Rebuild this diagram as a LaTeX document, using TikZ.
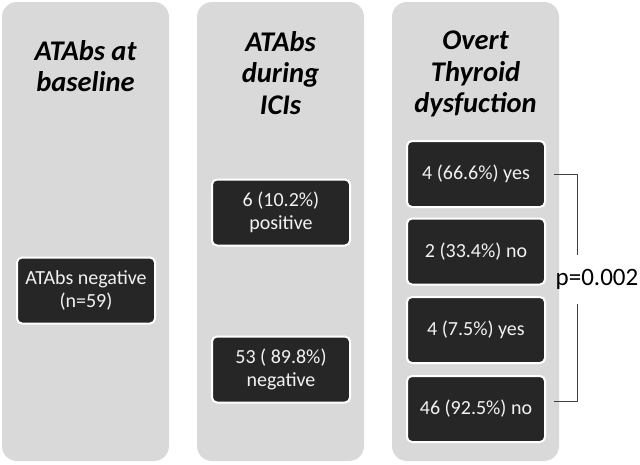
\documentclass[tikz,border=0pt]{standalone}
\usepackage{fontspec}
\setmainfont{Carlito}
\usetikzlibrary{positioning}
\definecolor{panelgray}{HTML}{D9D9D9}
\definecolor{boxdark}{HTML}{262626}
\definecolor{boxtext}{HTML}{F2F2F2}
\definecolor{brackgray}{HTML}{404040}

\begin{document}
\begin{tikzpicture}[x=1pt, y=-1pt,
  panel/.style={fill=panelgray, rounded corners=15pt},
  headtext/.style={font=\fontsize{28.5}{31.5}\selectfont\bfseries\itshape, align=center, anchor=north, inner sep=0pt},
  stagebox/.style={fill=boxdark, draw=white, line width=2pt, rounded corners=5pt, text=boxtext,
    font=\fontsize{20}{23.5}\selectfont, align=center, minimum width=138pt, minimum height=66pt, inner sep=2pt},
  bracket/.style={draw=brackgray, line width=1pt}]
  \useasboundingbox (0,0) rectangle (640,464);

  % --- Panels ---
  \fill[panel] (2,2) rectangle (169,461);
  \fill[panel] (197,2) rectangle (364,461);
  \fill[panel] (392,2) rectangle (559,461);

  % --- Headers ---
  \node[headtext] (head1) at (85.5,40) {ATAbs at\\baseline};
  \node[headtext] (head2) at (280.5,31) {ATAbs\\during\\ICIs};
  \node[headtext] (head3) at (475.5,31) {Overt\\Thyroid\\dysfuction};

  % --- Baseline ---
  \node[stagebox] (base) at (86,290.5) {ATAbs negative\\(n=59)};

  % --- During ICIs ---
  \node[stagebox] (pos) at (281,212.5) {6 (10.2\%)\\positive};
  \node[stagebox] (neg) at (281,369.5) {53 ( 89.8\%)\\negative};

  % --- Overt dysfunction ---
  \node[stagebox] (posyes) at (476,174) {4 (66.6\%) yes};
  \node[stagebox] (posno) at (476,251.5) {2 (33.4\%) no};
  \node[stagebox] (negyes) at (476,330) {4 (7.5\%) yes};
  \node[stagebox] (negno) at (476,409) {46 (92.5\%) no};

  % --- p value bracket ---
  \node[font=\fontsize{25}{30}\selectfont, inner sep=0pt] (pval) at (597,279) {p=0.002};
  \coordinate (brx) at (577,0);
  \draw[bracket] ([xshift=8pt]posyes.east) -| ([yshift=14pt]pval.north -| brx);
  \draw[bracket] ([xshift=8pt,yshift=8pt]negno.east) -| ([yshift=-15pt]pval.south -| brx);
\end{tikzpicture}
\end{document}
